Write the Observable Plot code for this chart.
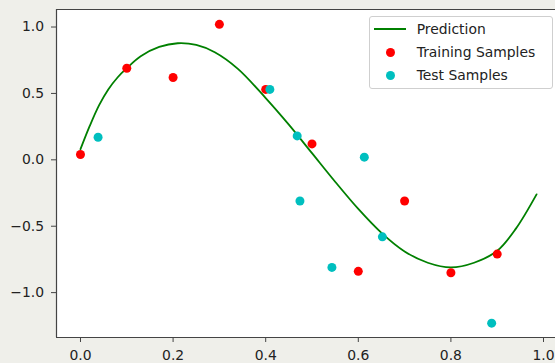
<!DOCTYPE html>
<html><head><meta charset="utf-8">
<script src="https://cdn.jsdelivr.net/npm/d3@7"></script>
<script src="https://cdn.jsdelivr.net/npm/@observablehq/plot@0.6"></script>
<style>
body{margin:0;background:#efefea;}
#wrap{position:relative;width:555px;height:363px;overflow:hidden;font-family:"DejaVu Sans",sans-serif;}
#legend{position:absolute;left:369px;top:16px;width:182px;height:71px;border:1px solid #cfcfcf;border-radius:3px;background:rgba(255,255,255,0.8);}
.item{position:absolute;left:46.7px;font-size:13.9px;line-height:16px;color:#222;white-space:nowrap;}
.ln{position:absolute;left:3.5px;top:10.8px;width:32px;height:2px;background:#008000;}
.dt{position:absolute;left:15.5px;width:9px;height:9px;border-radius:50%;}
</style>
</head><body>
<div id="wrap">
<div id="chart"></div>
<div id="legend">
  <div class="ln"></div><div class="item" style="top:4.3px">Prediction</div>
  <div class="dt" style="top:30.8px;background:#ff0000"></div><div class="item" style="top:27.3px">Training Samples</div>
  <div class="dt" style="top:54.2px;background:#00bfbf"></div><div class="item" style="top:50px">Test Samples</div>
</div>
</div>
<script>
const trainX = [0, 0.1, 0.2, 0.3, 0.4, 0.5, 0.6, 0.7, 0.8, 0.9];
const trainY = [0.04, 0.69, 0.62, 1.02, 0.53, 0.12, -0.84, -0.31, -0.85, -0.71];
const testX = [0.038, 0.409, 0.468, 0.474, 0.543, 0.613, 0.652, 0.888];
const testY = [0.17, 0.53, 0.18, -0.31, -0.81, 0.02, -0.58, -1.23];
const predX = [0, 0.02, 0.04, 0.06, 0.08, 0.1, 0.13, 0.17, 0.21, 0.25, 0.29, 0.34, 0.4, 0.45, 0.5, 0.55, 0.6, 0.65, 0.7, 0.75, 0.8, 0.85, 0.9, 0.94, 0.985];
const predY = [0.08, 0.255, 0.41, 0.53, 0.62, 0.69, 0.78, 0.85, 0.878, 0.865, 0.81, 0.685, 0.465, 0.265, 0.05, -0.165, -0.37, -0.55, -0.69, -0.775, -0.81, -0.775, -0.685, -0.52, -0.26];
const xTicks = [0, 0.2, 0.4, 0.6, 0.8, 1.0];
const yTicks = [-1.0, -0.5, 0, 0.5, 1.0];
const xDomain = [-0.0518, 1.0259];
const yDomain = [-1.338, 1.132];

const train = trainX.map((x, i) => ({x, y: trainY[i]}));
const test = testX.map((x, i) => ({x, y: testY[i]}));
const pred = predX.map((x, i) => ({x, y: predY[i]}));
const fmt = d => (d < 0 ? "\u2212" : "") + Math.abs(d).toFixed(1);

const chart = Plot.plot({
  width: 555, height: 363,
  marginTop: 9, marginLeft: 56, marginBottom: 26, marginRight: 0,
  style: {background: "transparent", fontFamily: "DejaVu Sans", fontSize: "13.9px", color: "#222"},
  x: {domain: xDomain},
  y: {domain: yDomain},
  marks: [
    Plot.frame({fill: "white", stroke: null}),
    Plot.line(pred, {x: "x", y: "y", stroke: "#008000", strokeWidth: 1.8, curve: "catmull-rom"}),
    Plot.dot(train, {x: "x", y: "y", r: 4.5, fill: "#ff0000"}),
    Plot.dot(test, {x: "x", y: "y", r: 4.5, fill: "#00bfbf"}),
    Plot.ruleX([xDomain[0]], {stroke: "#444", strokeWidth: 1.2}),
    Plot.ruleY(yDomain, {stroke: "#444", strokeWidth: 1.2}),
    Plot.axisX({ticks: xTicks, tickFormat: fmt, tickSize: 5, tickPadding: 8, label: null, stroke: "#444", fill: "#222"}),
    Plot.axisY({ticks: yTicks, tickFormat: fmt, tickSize: 5, tickPadding: 7.5, label: null, stroke: "#444", fill: "#222"})
  ]
});
document.getElementById("chart").appendChild(chart);
</script>
</body></html>
